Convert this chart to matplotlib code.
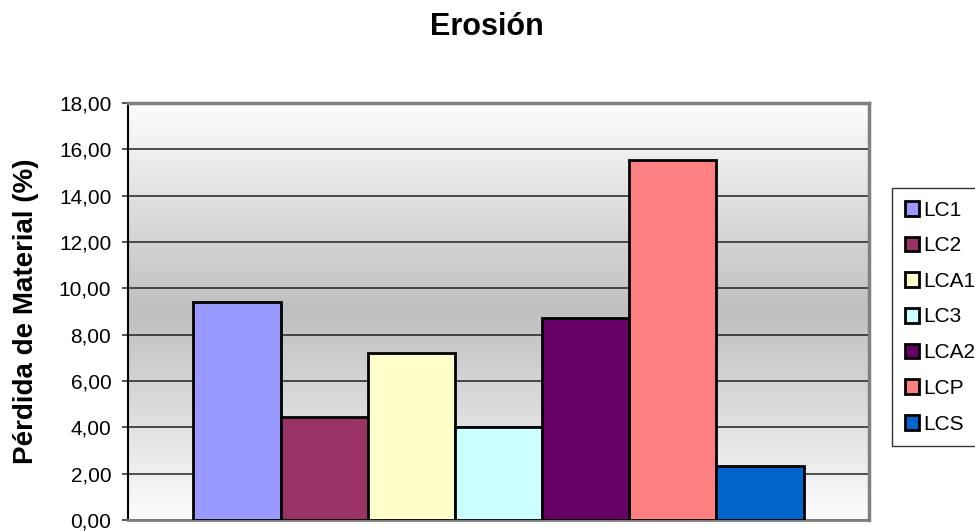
import numpy as np
import matplotlib
matplotlib.use("Agg")
import matplotlib.pyplot as plt
from matplotlib.ticker import FuncFormatter, MultipleLocator

series = ["LC1", "LC2", "LCA1", "LC3", "LCA2", "LCP", "LCS"]
values = [9.39, 4.45, 7.22, 4.02, 8.70, 15.52, 2.34]
colors = ["#9999FF", "#993366", "#FFFFCC", "#CCFFFF", "#660066", "#FF8080", "#0066CC"]

plt.rcParams['font.family'] = ['Liberation Sans', 'DejaVu Sans']

fig = plt.figure(figsize=(9.75, 5.31), dpi=100)
ax = fig.add_axes([128 / 975, 1 - 520 / 531, (869 - 128) / 975, (520 - 103) / 531])

# gradient background: white at top and bottom, gray in the middle
t = np.linspace(0, 1, 256)
shade = 0.99 - 0.24 * (1 - np.abs(t - 0.5) * 2)
grad = np.dstack([shade, shade, shade])[0][:, None, :]
ax.imshow(grad, extent=[-4.25, 4.25, 0, 18], aspect='auto', zorder=0, origin='lower')

n = len(series)
for i, (name, val, col) in enumerate(zip(series, values, colors)):
    ax.bar(i - n / 2, val, width=1, align='edge', color=col, edgecolor='black',
           linewidth=2, label=name, zorder=3)

ax.set_xlim(-4.25, 4.25)
ax.set_ylim(0, 18)
ax.yaxis.set_major_locator(MultipleLocator(2))
ax.yaxis.set_major_formatter(FuncFormatter(lambda v, p: f"{v:.2f}".replace(".", ",")))
ax.set_xticks([])
ax.grid(axis='y', color='#222222', linewidth=1.1, zorder=1)
ax.tick_params(axis='y', labelsize=15, length=4, width=1.2, pad=8, color='#333333')

ax.spines['left'].set_color('black')
ax.spines['left'].set_linewidth(1.5)
ax.spines['bottom'].set_color('#808080')
ax.spines['bottom'].set_linewidth(2)
ax.spines['top'].set_color('#808080')
ax.spines['top'].set_linewidth(2.5)
ax.spines['right'].set_color('#808080')
ax.spines['right'].set_linewidth(2.5)

ax.set_ylabel("Pérdida de Material (%)", fontsize=20, fontweight='bold', labelpad=14)
fig.text(0.4995, 1 - 27 / 531, "Erosión", fontsize=22, fontweight='bold',
         ha='center', va='center')

leg = fig.legend(loc='upper left', bbox_to_anchor=(892 / 975, 1 - 188 / 531),
                 fontsize=15, frameon=True, fancybox=False, edgecolor='black',
                 handlelength=0.7, handleheight=0.7, handletextpad=0.2,
                 labelspacing=0.8, borderpad=0.6, borderaxespad=0)
leg.get_frame().set_linewidth(1)
for h in leg.legend_handles:
    h.set_linewidth(2)

fig.savefig("out.png", dpi=100)
